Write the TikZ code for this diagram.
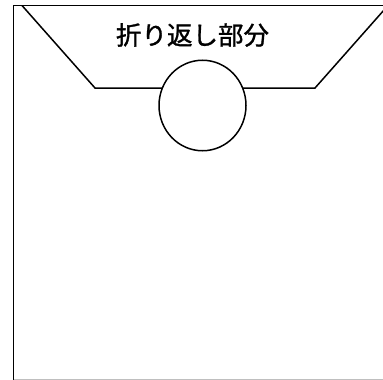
\documentclass[tikz,border=0pt]{standalone}
\usepackage{fontspec}
\usetikzlibrary{shapes.geometric}
\newfontfamily\jpfont[FakeBold=1.2]{Noto Sans CJK JP}
\begin{document}
\begin{tikzpicture}[x=1pt,y=-1pt,line width=1.5pt,
  hole/.style={ellipse,draw,fill=white,minimum width=87,minimum height=90.5,inner sep=0pt},
  label/.style={font=\jpfont\fontsize{25.5}{25.5}\selectfont,inner sep=0pt}]
\useasboundingbox (0,0) rectangle (383,380);
\clip (0,0) rectangle (383,380);
\draw (400,5.5) -- (13.5,5.5) -- (13.5,380.5);
\draw[black!25] (13.5,379.6) -- (400,379.6);
\coordinate (tl) at (22,5.5);
\coordinate (bl) at (95,88);
\coordinate (br) at (315,88);
\coordinate (tr) at (388,5.5);
\draw (tl) -- (bl) -- (br) -- (tr);
\node[hole] (circ) at (202.5,105.5) {};
\node[label] (txt) at (192.5,35) {折り返し部分};
\end{tikzpicture}
\end{document}
